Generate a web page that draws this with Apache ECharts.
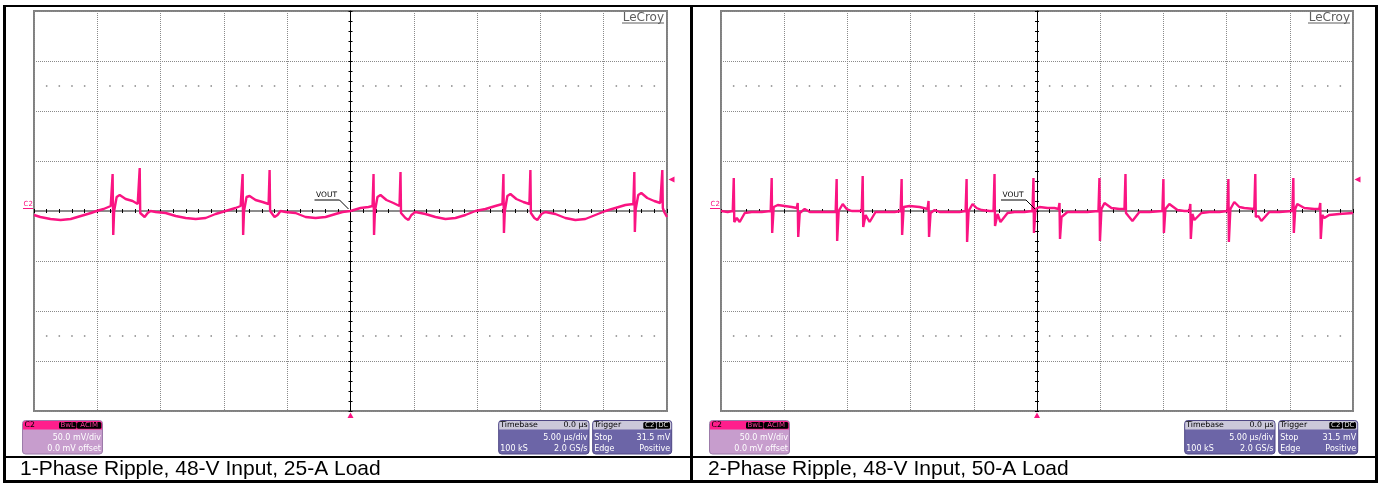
<!DOCTYPE html>
<html>
<head>
<meta charset="utf-8">
<script src="https://cdn.jsdelivr.net/npm/echarts@6/dist/echarts.min.js"></script>
<style>
  html, body { margin: 0; padding: 0; background: #fff; }
  #scope { width: 1381px; height: 483px; }
</style>
</head>
<body>
<div id="scope"></div>
<script>
// scope settings: 5 us/div, 50 mV/div, 10 x 8 divisions
var timeRange = [-25, 25];      // us
var mvRange = [-200, 200];      // mV
var timeDiv = 5, mvDiv = 50;
var timeMinor = 1, mvMinor = 10;
var dotRowsMv = [125, -125];    // dotted graticule rows
var trigLevelMv = 31.5;
var trigTime = 0;

// 1-phase ripple (left screen)
var onePhaseTime = [-25.0, -24.5, -23.7, -22.9, -22.1, -21.3, -20.5, -20.05, -19.5, -18.94,
  -18.86, -18.79, -18.74, -18.67, -18.47, -18.23, -17.76, -17.21, -16.81, -16.65,
  -16.61, -16.26, -16.02, -15.79, -15.39, -14.6, -13.81, -13.02, -12.23, -11.44,
  -10.66, -9.87, -9.08, -8.68, -8.56, -8.52, -8.48, -8.41, -8.21, -7.97,
  -7.5, -6.95, -6.47, -6.39, -6.35, -6.0, -5.76, -5.53, -5.13, -4.34,
  -3.55, -2.76, -1.97, -1.18, -0.63, 0, 0.79, 1.42, 1.74, 1.82,
  1.86, 1.93, 2.13, 2.37, 2.84, 3.39, 3.87, 3.95, 3.99, 4.34,
  4.58, 4.81, 5.13, 5.92, 6.71, 7.5, 8.29, 9.08, 9.87, 10.66,
  11.44, 12.0, 12.08, 12.12, 12.19, 12.39, 12.63, 13.1, 13.65, 14.13,
  14.21, 14.25, 14.52, 14.76, 15.08, 15.39, 16.18, 16.97, 17.76, 18.55,
  19.34, 20.13, 20.92, 21.71, 22.34, 22.42, 22.46, 22.53, 22.73, 22.97,
  23.44, 23.99, 24.47, 24.63, 24.67, 24.78, 25.0];
var onePhaseMv = [-4, -6, -8, -9, -8, -5, -2, 0, 2, 5,
  6, 37, -24, 0, 14, 16, 12, 10, 7, 43,
  -2, -6, -2, 0, -1, -2, -5, -7, -8, -7,
  -3, 0, 3, 5, 6, 37, -24, 0, 14, 15,
  11, 9, 7, 41, 0, -6, -4, 0, -1, -2,
  -6, -7, -6, -3, -1, 0, 3, 4, 5, 37,
  -24, 0, 14, 16, 11, 8, 5, 39, -2, -7,
  -9, -4, -1, -3, -6, -8, -7, -4, 0, 2,
  5, 7, 37, -22, 0, 15, 17, 12, 9, 7,
  41, -2, -7, -9, -3, -1, -3, -7, -9, -8,
  -4, 0, 3, 6, 7, 39, -21, 2, 16, 18,
  13, 10, 8, 41, 3, -1, -6];

// 2-phase ripple (right screen)
var twoPhaseTime = [-25.0, -24.47, -24.07, -23.99, -23.95, -23.75, -23.52, -23.12, -22.57, -21.78,
  -21.07, -20.99, -20.95, -20.83, -20.51, -19.96, -19.41, -19.01, -18.93, -18.89,
  -18.77, -18.38, -17.98, -17.19, -16.40, -15.93, -15.85, -15.81, -15.69, -15.37,
  -15.06, -14.66, -13.87, -13.79, -13.75, -13.56, -13.24, -12.77, -12.06, -11.26,
  -10.79, -10.71, -10.67, -10.55, -10.08, -9.29, -8.66, -8.58, -8.54, -8.42,
  -8.10, -7.71, -6.92, -6.13, -5.65, -5.57, -5.53, -5.41, -5.10, -4.78,
  -4.39, -3.75, -3.44, -3.36, -3.32, -3.12, -2.89, -2.33, -1.78, -0.99,
  -0.36, -0.28, -0.24, -0.12, 0.20, 0.83, 1.38, 1.70, 1.78, 1.82,
  1.94, 2.41, 3.20, 3.99, 4.86, 4.94, 4.98, 5.10, 5.34, 5.89,
  6.52, 6.92, 7.00, 7.04, 7.23, 7.55, 8.10, 8.89, 9.92, 10.00,
  10.04, 10.16, 10.47, 11.11, 11.66, 12.06, 12.13, 12.17, 12.29, 12.45,
  13.00, 13.64, 14.43, 15.06, 15.14, 15.18, 15.30, 15.61, 16.01, 16.40,
  17.19, 17.27, 17.31, 17.51, 17.75, 18.38, 19.17, 20.20, 20.28, 20.32,
  20.43, 20.59, 21.15, 21.94, 22.33, 22.41, 22.45, 22.57, 22.73, 23.12,
  23.91, 25.0];
var twoPhaseMv = [0, -1, 0, 33, -11, -7, -11, -2, -1, -1,
  0, 33, -22, 4, 6, 5, 4, 3, 8, -26,
  -2, 2, -1, -1, -1, -1, 32, -30, 0, 7,
  2, 0, 0, 35, -16, -4, -11, -1, -1, -1,
  0, 32, -24, 4, 5, 4, 2, 10, -26, -2,
  1, -1, -1, -1, 0, 32, -31, 0, 7, 3,
  1, 0, 0, 37, -15, -3, -11, -2, -1, -1,
  0, 33, -22, 2, 4, 3, 3, 2, 8, -28,
  -6, -1, -1, -1, 0, 33, -30, 2, 8, 3,
  2, 2, 37, -2, -5, -10, -1, -1, 0, 32,
  -22, 2, 7, 1, 0, 0, 7, -28, -3, -9,
  -2, -1, -1, 0, 32, -31, 2, 9, 4, 3,
  2, 37, -6, -5, -10, -1, -1, 0, 33, -22,
  2, 7, 3, 2, 2, 8, -28, -4, -7, -4,
  -3, -2];

var captions = ['1-Phase Ripple, 48-V Input, 25-A Load', '2-Phase Ripple, 48-V Input, 50-A Load'];
var chanText = ['C2', 'BwL', 'ACIM', '50.0 mV/div', '0.0 mV offset'];
var timebaseText = ['Timebase', '0.0 µs', '5.00 µs/div', '100 kS', '2.0 GS/s'];
var triggerText = ['Trigger', 'C2', 'DC', 'Stop', '31.5 mV', 'Edge', 'Positive'];

var PINK = '#fa1482';
var FONT = '"DejaVu Sans", sans-serif';

var panels = [
  { left: 34, width: 633, time: onePhaseTime, mv: onePhaseMv, caption: captions[0], capX: 20 },
  { left: 721, width: 632, time: twoPhaseTime, mv: twoPhaseMv, caption: captions[1], capX: 708 }
];
var gridTop = 11, gridHeight = 400;

var chart = echarts.init(document.getElementById('scope'));

function pairs(xs, ys) {
  return xs.map(function (x, i) { return [x, ys[i]]; });
}

// graticule dots at each minor time step, off the major lines
var dotData = [];
for (var t = timeRange[0]; t <= timeRange[1]; t += timeMinor) {
  if (t % timeDiv === 0) continue;
  dotRowsMv.forEach(function (v) { dotData.push([t, v]); });
}

var grids = [], xAxes = [], yAxes = [], series = [];
panels.forEach(function (p, i) {
  grids.push({
    left: p.left, top: gridTop, width: p.width, height: gridHeight,
    show: true, borderColor: '#808080', borderWidth: 2
  });
  var base = { gridIndex: i, type: 'value', axisLabel: { show: false }, splitLine: { show: false } };
  // division lines
  xAxes.push(Object.assign({}, base, {
    min: timeRange[0], max: timeRange[1], interval: timeDiv,
    axisLine: { show: false }, axisTick: { show: false },
    splitLine: { show: true, lineStyle: { color: '#8a8a8a', type: 'dotted', width: 1 } }
  }));
  // centre time axis with minor ticks (both sides)
  xAxes.push(Object.assign({}, base, {
    min: timeRange[0], max: timeRange[1], interval: timeMinor, position: 'bottom',
    axisLine: { show: true, onZero: true, onZeroAxisIndex: i * 3, lineStyle: { color: '#8c8c8c', width: 2 } },
    axisTick: { show: true, inside: true, length: 2, lineStyle: { color: '#000', width: 1 } }
  }));
  xAxes.push(Object.assign({}, base, {
    min: timeRange[0], max: timeRange[1], interval: timeMinor, position: 'top',
    axisLine: { show: false, onZero: true, onZeroAxisIndex: i * 3 },
    axisTick: { show: true, inside: true, length: 2, lineStyle: { color: '#000', width: 1 } }
  }));
  yAxes.push(Object.assign({}, base, {
    min: mvRange[0], max: mvRange[1], interval: mvDiv,
    axisLine: { show: false }, axisTick: { show: false },
    splitLine: { show: true, lineStyle: { color: '#8a8a8a', type: 'dotted', width: 1 } }
  }));
  yAxes.push(Object.assign({}, base, {
    min: mvRange[0], max: mvRange[1], interval: mvMinor, position: 'left',
    axisLine: { show: true, onZero: true, onZeroAxisIndex: i * 3, lineStyle: { color: '#000', width: 1 } },
    axisTick: { show: true, inside: true, length: 2, lineStyle: { color: '#000', width: 1 } }
  }));
  yAxes.push(Object.assign({}, base, {
    min: mvRange[0], max: mvRange[1], interval: mvMinor, position: 'right',
    axisLine: { show: false, onZero: true, onZeroAxisIndex: i * 3 },
    axisTick: { show: true, inside: true, length: 2, lineStyle: { color: '#000', width: 1 } }
  }));
});
panels.forEach(function (p, i) {
  series.push({
    type: 'line', xAxisIndex: i * 3, yAxisIndex: i * 3,
    data: pairs(p.time, p.mv), showSymbol: false, symbol: 'none',
    lineStyle: { color: PINK, width: 2.4 }, z: 5, silent: true
  });
});
panels.forEach(function (p, i) {
  series.push({
    type: 'scatter', xAxisIndex: i * 3, yAxisIndex: i * 3,
    data: dotData, symbol: 'rect', symbolSize: 1.5,
    itemStyle: { color: '#666' }, z: 1, silent: true
  });
});

chart.setOption({
  animation: false,
  grid: grids, xAxis: xAxes, yAxis: yAxes, series: series
});

function txt(s, x, y, opts) {
  opts = opts || {};
  return {
    type: 'text', silent: true, z: opts.z || 10,
    style: {
      text: s, x: x, y: y, fill: opts.fill || '#fff',
      font: (opts.weight || '') + ' ' + (opts.size || 7.8) + 'px ' + (opts.family || FONT),
      align: opts.align || 'left', verticalAlign: opts.va || 'middle'
    }
  };
}
function box(x, y, w, h, fill, r, stroke) {
  return {
    type: 'rect', silent: true, z: 9,
    shape: { x: x, y: y, width: w, height: h, r: r },
    style: { fill: fill, stroke: stroke || null, lineWidth: stroke ? 1 : 0 }
  };
}
function seg(x1, y1, x2, y2, color, w) {
  return {
    type: 'line', silent: true, z: 10,
    shape: { x1: x1, y1: y1, x2: x2, y2: y2 },
    style: { stroke: color, lineWidth: w }
  };
}

var graphics = [];
panels.forEach(function (p, i) {
  var gl = p.left, gr = p.left + p.width;
  var zero = chart.convertToPixel({ seriesIndex: i }, [0, 0]);
  var trg = chart.convertToPixel({ seriesIndex: i }, [timeRange[1], trigLevelMv]);
  var pos = chart.convertToPixel({ seriesIndex: i }, [trigTime, mvRange[0]]);

  // trigger level / position markers
  graphics.push({ type: 'polygon', silent: true, z: 10,
    shape: { points: [[trg[0] + 1.5, trg[1]], [trg[0] + 7.5, trg[1] - 3], [trg[0] + 7.5, trg[1] + 3]] },
    style: { fill: PINK } });
  graphics.push({ type: 'polygon', silent: true, z: 10,
    shape: { points: [[pos[0], pos[1] + 1.5], [pos[0] - 3, pos[1] + 7], [pos[0] + 3, pos[1] + 7]] },
    style: { fill: PINK } });

  // channel marker
  graphics.push(txt('C2', gl - 10.5, zero[1] - 6.5, { fill: PINK, size: 7 }));
  graphics.push(seg(gl - 11, zero[1] - 2.5, gl - 1, zero[1] - 2.5, PINK, 1));

  // VOUT label
  graphics.push(txt('VOUT', zero[0] - 34.5, zero[1] - 16, { fill: '#000', size: 7.5 }));
  graphics.push(seg(zero[0] - 36, zero[1] - 11, zero[0] - 11, zero[1] - 11, '#000', 1));
  graphics.push(seg(zero[0] - 11, zero[1] - 11, zero[0] - 2, zero[1] - 2, '#000', 1));

  // LeCroy logo
  graphics.push(txt('LeCroy', gr - 3, gridTop + 6.5, { fill: '#5f5f5f', size: 12, align: 'right' }));
  graphics.push(seg(gr - 45, gridTop + 12, gr - 3, gridTop + 12, '#5f5f5f', 1));

  // channel box
  var top = 420.5, h = 33.5, hh = 8.6;
  var cx = gl - 11.5, cw = 80;
  graphics.push(box(cx, top, cw, h, '#c79dcd', 3, '#9c7ba9'));
  graphics.push(box(cx + 0.5, top + 0.5, cw - 1, hh, '#ff1e8c', [3, 3, 0, 0]));
  graphics.push(txt(chanText[0], cx + 2, top + 4.8, { fill: '#000' }));
  graphics.push(box(cx + 36.5, top + 1.5, 17.5, 6.7, '#000', 1.5));
  graphics.push(box(cx + 54.5, top + 1.5, 24.3, 6.7, '#000', 1.5));
  graphics.push(txt(chanText[1], cx + 45.2, top + 4.9, { fill: '#ff3d9e', size: 7, align: 'center' }));
  graphics.push(txt(chanText[2], cx + 66.6, top + 4.9, { fill: '#ff3d9e', size: 7, align: 'center' }));
  graphics.push(txt(chanText[3], cx + cw - 1.5, top + 17, { align: 'right', size: 8 }));
  graphics.push(txt(chanText[4], cx + cw - 1.5, top + 28, { align: 'right', size: 8 }));

  // timebase box
  var tx = gr - 168.3, tw = 90.3;
  graphics.push(box(tx, top, tw, h, '#6c65a7', 3, '#4e4784'));
  graphics.push(box(tx + 0.5, top + 0.5, tw - 1, hh, '#cbc8da', [3, 3, 0, 0]));
  graphics.push(txt(timebaseText[0], tx + 1.5, top + 4.8, { fill: '#000' }));
  graphics.push(txt(timebaseText[1], tx + tw - 1.5, top + 4.8, { fill: '#000', align: 'right' }));
  graphics.push(txt(timebaseText[2], tx + tw - 1.5, top + 17, { align: 'right', size: 8 }));
  graphics.push(txt(timebaseText[3], tx + 1.5, top + 28, { size: 8 }));
  graphics.push(txt(timebaseText[4], tx + tw - 1.5, top + 28, { align: 'right', size: 8 }));

  // trigger box
  var rx = gr - 74.3, rw = 79;
  graphics.push(box(rx, top, rw, h, '#6c65a7', 3, '#4e4784'));
  graphics.push(box(rx + 0.5, top + 0.5, rw - 1, hh, '#cbc8da', [3, 3, 0, 0]));
  graphics.push(txt(triggerText[0], rx + 1.5, top + 4.8, { fill: '#000' }));
  graphics.push(box(rx + 50.6, top + 1.5, 12.7, 6.7, '#000', 1.5));
  graphics.push(box(rx + 64, top + 1.5, 13.3, 6.7, '#000', 1.5));
  graphics.push(txt(triggerText[1], rx + 57, top + 4.9, { fill: '#ddd', size: 7, align: 'center' }));
  graphics.push(txt(triggerText[2], rx + 70.6, top + 4.9, { fill: '#ddd', size: 7, align: 'center' }));
  graphics.push(txt(triggerText[3], rx + 1.5, top + 17, { size: 8 }));
  graphics.push(txt(triggerText[4], rx + rw - 1.5, top + 17, { align: 'right', size: 8 }));
  graphics.push(txt(triggerText[5], rx + 1.5, top + 28, { size: 8 }));
  graphics.push(txt(triggerText[6], rx + rw - 1.5, top + 28, { align: 'right', size: 8 }));

  // caption
  graphics.push(txt(p.caption, p.capX, 469.5, { fill: '#000', size: 21, family: '"Liberation Sans", Arial, sans-serif' }));
});

// outer frame and dividers
graphics.push(seg(3, 6, 1378, 6, '#000', 2));
graphics.push(seg(4.5, 5, 4.5, 483, '#000', 3));
graphics.push(seg(1376.5, 5, 1376.5, 483, '#000', 3));
graphics.push(seg(691.5, 5, 691.5, 483, '#000', 3));
graphics.push(seg(3, 457, 1378, 457, '#000', 2));
graphics.push(seg(3, 481.5, 1378, 481.5, '#000', 3));

chart.setOption({ graphic: graphics });
</script>
</body>
</html>
